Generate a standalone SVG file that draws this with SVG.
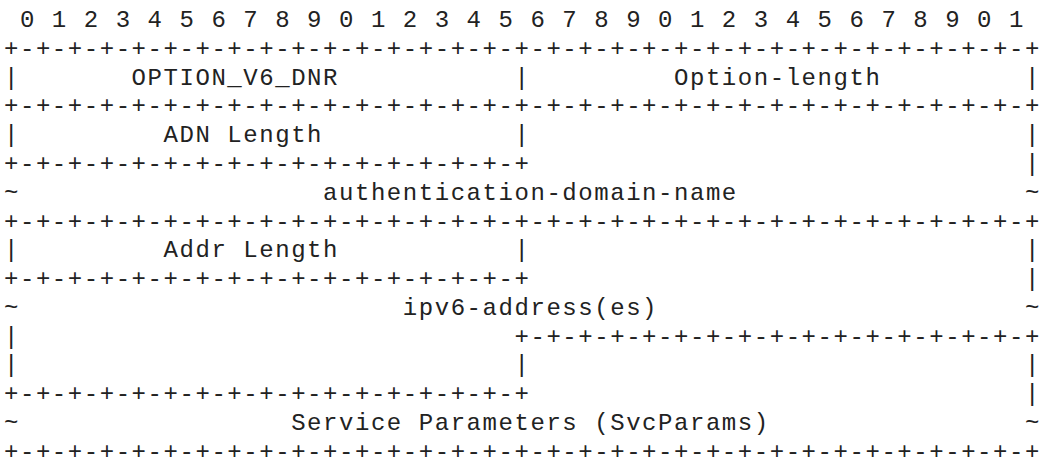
<svg xmlns="http://www.w3.org/2000/svg" width="1041" height="466" viewBox="0 0 1041 466" xml:space="preserve">
<style>
  text { font-family: "Liberation Mono", "Courier New", monospace; font-size: 24px; letter-spacing: 1.55px; fill: #222222; white-space: pre; }
</style>
<rect width="1041" height="466" fill="#ffffff"/>
<g id="bit-ruler"><text x="4" y="27"> 0 1 2 3 4 5 6 7 8 9 0 1 2 3 4 5 6 7 8 9 0 1 2 3 4 5 6 7 8 9 0 1</text></g>
<g id="connectors">
<text x="4" y="55.8">+-+-+-+-+-+-+-+-+-+-+-+-+-+-+-+-+-+-+-+-+-+-+-+-+-+-+-+-+-+-+-+-+</text>
<text x="4" y="113.3">+-+-+-+-+-+-+-+-+-+-+-+-+-+-+-+-+-+-+-+-+-+-+-+-+-+-+-+-+-+-+-+-+</text>
<text x="4" y="170.9">+-+-+-+-+-+-+-+-+-+-+-+-+-+-+-+-+                               |</text>
<text x="4" y="228.5">+-+-+-+-+-+-+-+-+-+-+-+-+-+-+-+-+-+-+-+-+-+-+-+-+-+-+-+-+-+-+-+-+</text>
<text x="4" y="286">+-+-+-+-+-+-+-+-+-+-+-+-+-+-+-+-+                               |</text>
<text x="4" y="343.6">|                               +-+-+-+-+-+-+-+-+-+-+-+-+-+-+-+-+</text>
<text x="4" y="372.4">|                               |                               |</text>
<text x="4" y="401.1">+-+-+-+-+-+-+-+-+-+-+-+-+-+-+-+-+                               |</text>
<text x="4" y="458.7">+-+-+-+-+-+-+-+-+-+-+-+-+-+-+-+-+-+-+-+-+-+-+-+-+-+-+-+-+-+-+-+-+</text>
</g>
<g id="option-code-length"><text x="4" y="84.6">|       OPTION_V6_DNR           |         Option-length         |</text></g>
<g id="adn-length"><text x="4" y="142.1">|         ADN Length            |                               |</text></g>
<g id="adn"><text x="4" y="199.7">~                   authentication-domain-name                  ~</text></g>
<g id="addr-length"><text x="4" y="257.2">|         Addr Length           |                               |</text></g>
<g id="ipv6-addresses"><text x="4" y="314.8">~                        ipv6-address(es)                       ~</text></g>
<g id="svc-params"><text x="4" y="429.9">~                 Service Parameters (SvcParams)                ~</text></g>
</svg>
